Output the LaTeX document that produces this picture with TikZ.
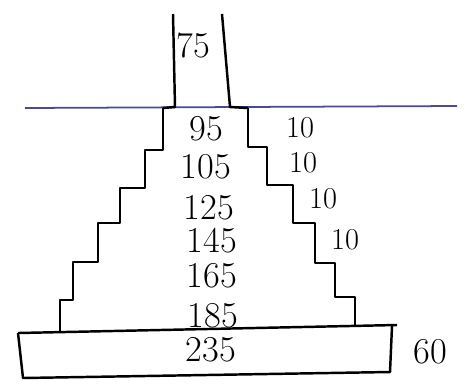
\documentclass[tikz,border=0pt]{standalone}
\usepackage{tikz}
\usetikzlibrary{arrows.meta,calc}
\definecolor{groundblue}{RGB}{72,74,150}
\tikzset{
  wall/.style={line width=1.4pt,black,line join=round},
  ground/.style={line width=1pt,groundblue},
  dim/.style={font=\huge,inner sep=1pt},
  step dim/.style={font=\LARGE,inner sep=1pt}
}

\begin{document}
\begin{tikzpicture}[>=Latex,x=0.02cm,y=-0.02cm]
  \useasboundingbox (0,0) rectangle (469,383);
  \draw[ground] (25,108) -- (457,106);
  \draw[wall] (173,14) -- (175,107) -- (163,108);
  \draw[wall] (222,14) -- (230,107) -- (248,108);
  \draw[wall] (163,108) -- (163,150) -- (145,150) -- (145,188) -- (120,188)
    -- (120,223) -- (98,223) -- (98,262) -- (73,262) -- (73,300) -- (60,300) -- (60,333);
  \draw[wall] (248,108) -- (248,147) -- (267,147) -- (267,185) -- (293,185)
    -- (293,223) -- (315,223) -- (315,263) -- (335,263) -- (335,297) -- (355,297) -- (355,326);
  \draw[wall] (18,333) -- (397,325);
  \draw[wall] (18,333) -- (23,378) -- (390,372) -- (392,326);
  \foreach \t/\x/\y in {75/193/45,95/206/129,105/206/167,125/209/208,145/212/241,165/212/276,185/213/316,235/211/350}{
    \node[dim] (w\t) at (\x,\y) {\t};
  }
  \foreach \i/\x/\y in {1/300/128,2/303/163,3/323/199,4/345/240}{
    \node[step dim] (s\i) at (\x,\y) {10};
  }
  \node[dim] (h60) at (430,352) {60};
\end{tikzpicture}
\end{document}
